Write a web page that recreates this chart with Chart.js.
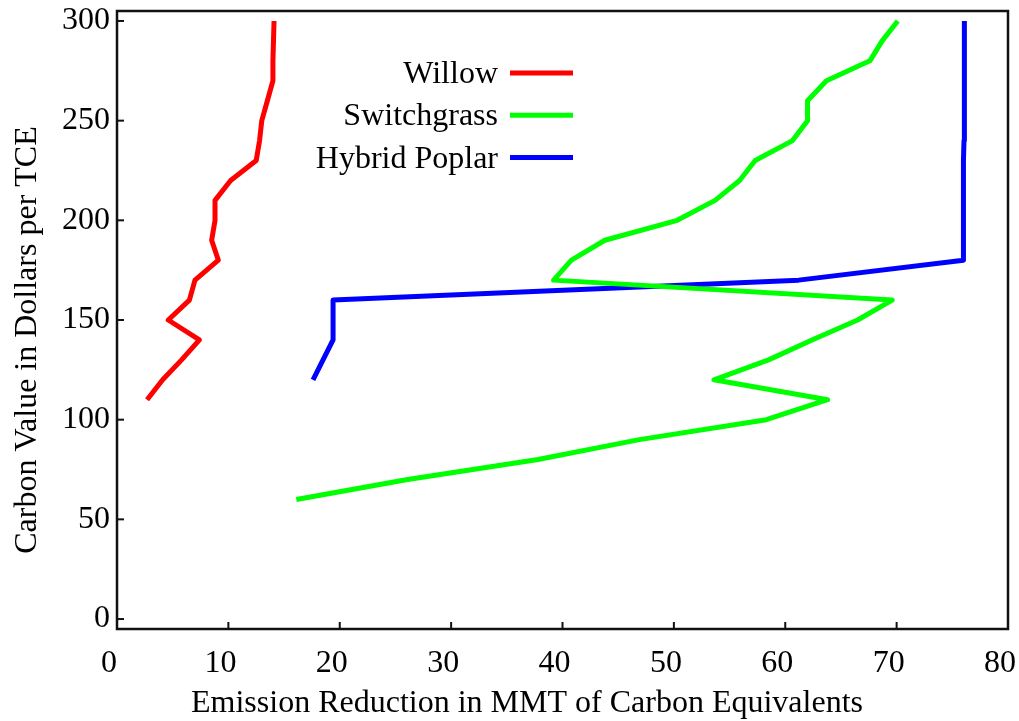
<!DOCTYPE html>
<html>
<head>
<meta charset="utf-8">
<script src="https://cdn.jsdelivr.net/npm/chart.js@4"></script>
<style>
  html, body { margin: 0; padding: 0; background: #fff; }
  #wrap { width: 1019px; height: 721px; }
</style>
</head>
<body>
<div id="wrap"><canvas id="myChart" width="1019" height="721"></canvas></div>
<script>
// carbon value ($/TCE) on y, emission reduction (MMT) on x
var willowPrice = [110, 120, 130, 140, 150, 160, 170, 180, 190, 200, 210, 220, 230, 240, 250, 260, 270, 280, 290, 300];
var willowReduction = [2.7, 4.1, 5.8, 7.4, 4.6, 6.5, 7.0, 9.1, 8.5, 8.8, 8.8, 10.2, 12.5, 12.8, 13.0, 13.5, 14.0, 14.0, 14.05, 14.1];

var switchgrassPrice = [60, 70, 80, 90, 100, 110, 120, 130, 140, 150, 160, 170, 180, 190, 200, 210, 220, 230, 240, 250, 260, 270, 280, 290, 300];
var switchgrassReduction = [16.1, 26.1, 37.8, 46.9, 58.3, 63.8, 53.6, 58.5, 62.4, 66.5, 69.6, 39.2, 40.8, 43.8, 50.3, 53.7, 55.9, 57.3, 60.65, 62.0, 62.0, 63.7, 67.6, 68.7, 70.1];

var poplarPrice = [120, 130, 140, 150, 160, 170, 180, 190, 200, 210, 220, 230, 240, 250, 260, 270, 280, 290, 300];
var poplarReduction = [17.6, 18.5, 19.4, 19.4, 19.4, 61.2, 76.0, 76.0, 76.0, 76.0, 76.0, 76.0, 76.05, 76.05, 76.05, 76.1, 76.1, 76.1, 76.1];

var xTicks = [0, 10, 20, 30, 40, 50, 60, 70, 80];
var yTicks = [0, 50, 100, 150, 200, 250, 300];

var xTitle = 'Emission Reduction in MMT of Carbon Equivalents';
var yTitle = 'Carbon Value in Dollars per TCE';

function pts(xs, ys) {
  return xs.map(function (x, i) { return {x: x, y: ys[i]}; });
}

var serif = '"Liberation Serif", "DejaVu Serif", serif';

// box round the plot, inward tick marks, axis titles, legend with text left of the line
var framePlugin = {
  id: 'frame',
  afterDraw: function (chart) {
    var c = chart.ctx, a = chart.chartArea;
    var xs = chart.scales.x, ys = chart.scales.y;
    c.save();
    c.strokeStyle = '#111';
    c.lineWidth = 2;
    xTicks.forEach(function (v) {
      var px = xs.getPixelForValue(v);
      c.beginPath(); c.moveTo(px, a.bottom); c.lineTo(px, a.bottom - 7); c.stroke();
    });
    yTicks.forEach(function (v) {
      var py = ys.getPixelForValue(v);
      c.beginPath(); c.moveTo(a.left, py); c.lineTo(a.left + 7, py); c.stroke();
    });
    c.lineWidth = 2.5;
    c.strokeRect(a.left, a.top, a.right - a.left, a.bottom - a.top);

    c.fillStyle = '#000';
    c.font = '32px ' + serif;
    c.textAlign = 'center';
    c.textBaseline = 'middle';
    c.fillText(xTitle, a.left + 410, a.bottom + 75);
    c.save();
    c.translate(28, a.top + 329);
    c.rotate(-Math.PI / 2);
    c.fillText(yTitle, 0, 0);
    c.restore();

    c.font = '32px ' + serif;
    c.textAlign = 'right';
    c.textBaseline = 'alphabetic';
    chart.data.datasets.forEach(function (ds, i) {
      var y = a.top + 62 + i * 42.3;
      c.fillStyle = '#000';
      c.fillText(ds.label, a.left + 381, y + 10);
      c.strokeStyle = ds.borderColor;
      c.lineWidth = 5;
      c.beginPath(); c.moveTo(a.left + 393, y); c.lineTo(a.left + 456, y); c.stroke();
    });
    c.restore();
  }
};

var ctx = document.getElementById('myChart').getContext('2d');
var myChart = new Chart(ctx, {
  type: 'scatter',
  data: {
    datasets: [{
      label: 'Willow',
      data: pts(willowReduction, willowPrice),
      borderColor: '#ff0000',
      backgroundColor: '#ff0000'
    }, {
      label: 'Switchgrass',
      data: pts(switchgrassReduction, switchgrassPrice),
      borderColor: '#00ff00',
      backgroundColor: '#00ff00'
    }, {
      label: 'Hybrid Poplar',
      data: pts(poplarReduction, poplarPrice),
      borderColor: '#0000ff',
      backgroundColor: '#0000ff'
    }]
  },
  options: {
    responsive: false,
    animation: false,
    devicePixelRatio: 1,
    showLine: true,
    elements: {
      point: { radius: 0, hoverRadius: 0 },
      line: { borderWidth: 5, tension: 0, borderJoinStyle: 'round' }
    },
    layout: { padding: { top: 11, right: 11, left: 0, bottom: 0 } },
    plugins: {
      legend: { display: false },
      tooltip: { enabled: false }
    },
    scales: {
      x: {
        type: 'linear',
        min: 0,
        max: 80,
        border: { display: false },
        grid: { display: false, drawTicks: false },
        ticks: {
          padding: 15,
          labelOffset: -8,
          color: '#000',
          font: { family: serif, size: 32 }
        },
        afterBuildTicks: function (s) { s.ticks = xTicks.map(function (v) { return {value: v}; }); },
        afterFit: function (s) { s.height = 92; s.paddingLeft = 0; s.paddingRight = 0; }
      },
      y: {
        type: 'linear',
        min: -5,
        max: 305,
        border: { display: false },
        grid: { display: false, drawTicks: false },
        ticks: {
          padding: 7,
          color: '#000',
          font: { family: serif, size: 32 }
        },
        afterBuildTicks: function (s) { s.ticks = yTicks.map(function (v) { return {value: v}; }); },
        afterFit: function (s) { s.width = 117; s.paddingTop = 0; s.paddingBottom = 0; }
      }
    }
  },
  plugins: [framePlugin]
});
</script>
</body>
</html>
